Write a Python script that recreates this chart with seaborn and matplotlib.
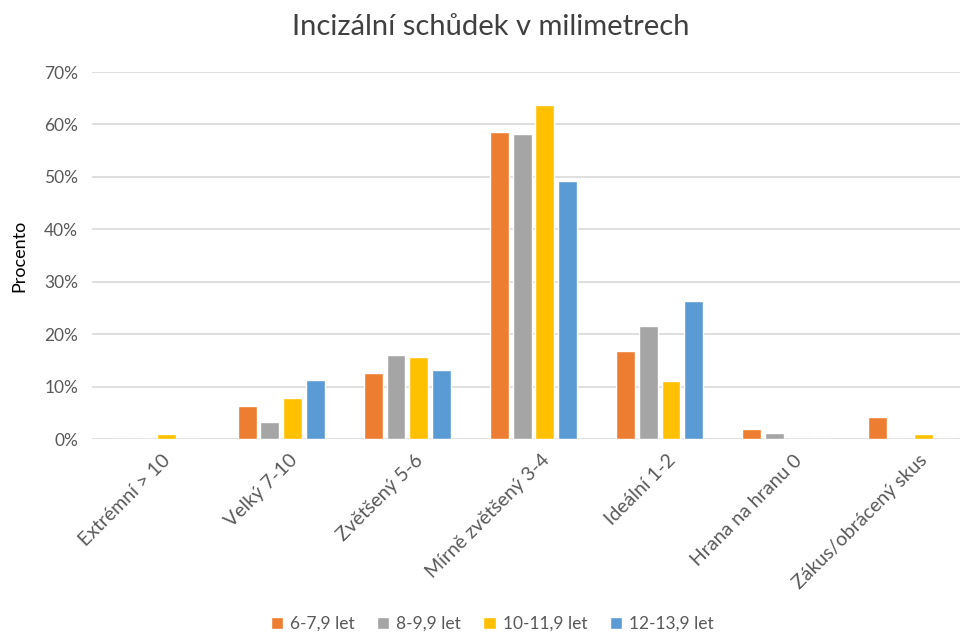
import pandas as pd
import numpy as np
import matplotlib
matplotlib.use("Agg")
import matplotlib.pyplot as plt
import matplotlib.transforms as mtransforms
import seaborn as sns
from matplotlib.ticker import PercentFormatter
from matplotlib.patches import Patch

sns.set_style("white")
plt.rcParams['font.family'] = ['Lato', 'DejaVu Sans']

# Data (podíl 0-1)
categories = ['Extrémní > 10', 'Velký 7-10', 'Zvětšený 5-6', 'Mírně zvětšený 3-4',
              'Ideální 1-2', 'Hrana na hranu 0', 'Zákus/obrácený skus']
groups = ['6-7,9 let', '8-9,9 let', '10-11,9 let', '12-13,9 let']
v_6_7 = [0.0, 0.063, 0.126, 0.585, 0.167, 0.020, 0.042]
v_8_9 = [0.0, 0.033, 0.161, 0.581, 0.215, 0.012, 0.0]
v_10_11 = [0.009, 0.078, 0.157, 0.638, 0.110, 0.0, 0.009]
v_12_13 = [0.0, 0.113, 0.132, 0.492, 0.264, 0.0, 0.0]
colors = ['#ED7D31', '#A5A5A5', '#FFC000', '#5B9BD5']

rows = []
for g, vals in zip(groups, [v_6_7, v_8_9, v_10_11, v_12_13]):
    for c, v in zip(categories, vals):
        rows.append({'kategorie': c, 'vek': g, 'podil': v})
df = pd.DataFrame(rows)

fig = plt.figure(figsize=(9.6, 6.35), dpi=100)
ax = fig.add_axes([92 / 960, (635 - 439) / 635, (975 - 92) / 960, (439 - 72) / 635])

sns.barplot(data=df, x='kategorie', y='podil', hue='vek', order=categories,
            hue_order=groups, palette=colors, width=0.72, gap=0.17,
            errorbar=None, ax=ax, legend=False, saturation=1)

ax.set_ylim(0, 0.7)
ax.set_yticks(np.arange(0, 0.71, 0.1))
ax.yaxis.set_major_formatter(PercentFormatter(1.0, decimals=0))
ax.grid(axis='y', color='#D9D9D9', linewidth=1.2)
ax.set_axisbelow(True)
for s in ax.spines.values():
    s.set_visible(False)
ax.tick_params(axis='y', length=0, labelsize=12.5, colors='#595959', pad=10)
ax.tick_params(axis='x', length=0, labelsize=14, colors='#595959', pad=9)
ax.set_xticks(range(len(categories)))
ax.set_xticklabels(categories, rotation=45, ha='right', rotation_mode='anchor')
# posun popisků mírně doprava
shift = mtransforms.ScaledTranslation(7 / 100, 0, fig.dpi_scale_trans)
for lbl in ax.get_xticklabels():
    lbl.set_transform(lbl.get_transform() + shift)
ax.set_xlabel('')
ax.set_ylabel('Procento', fontsize=13, color='black', labelpad=12)

fig.text(491 / 960, 1 - 27 / 635, 'Incizální schůdek v milimetrech', ha='center',
         va='center', fontsize=21, color='#404040')

handles = [Patch(facecolor=c, label=g) for c, g in zip(colors, groups)]
fig.legend(handles=handles, loc='center', bbox_to_anchor=(492 / 960, 1 - 624 / 635),
           ncol=4, frameon=False, fontsize=12.5, handlelength=0.7, handleheight=0.7,
           handletextpad=0.4, columnspacing=1.3, labelcolor='#595959')

fig.savefig('out.png', dpi=100)
